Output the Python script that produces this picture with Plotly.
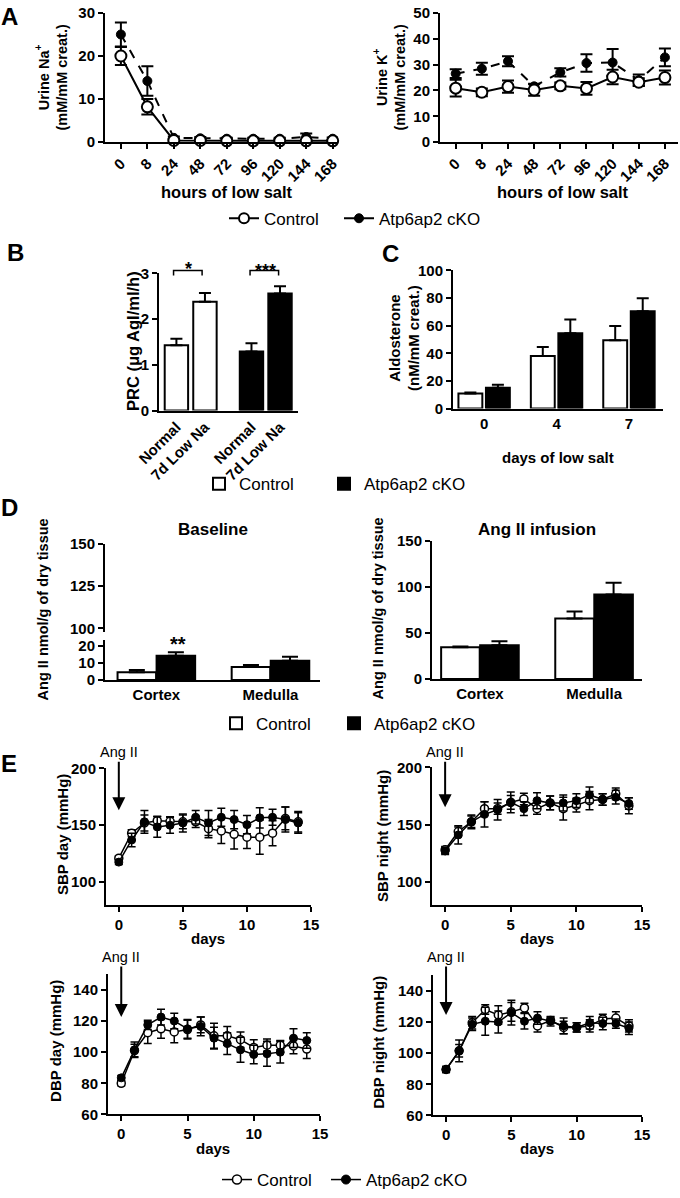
import plotly.graph_objects as go

# ---------------- data ----------------
hours = ["0", "8", "24", "48", "72", "96", "120", "144", "168"]
na_ctrl = [20.0, 8.2, 0.4, 0.4, 0.3, 0.3, 0.3, 0.3, 0.3]
na_ctrl_err = [2.1, 1.8, 0.3, 0.2, 0.2, 0.2, 0.2, 0.2, 0.2]
na_cko = [25.0, 14.2, 1.0, 0.9, 0.8, 0.8, 0.8, 1.2, 0.8]
na_cko_err = [2.8, 3.4, 0.3, 0.3, 0.2, 0.2, 0.2, 0.8, 0.3]

k_ctrl = [20.9, 19.3, 21.5, 20.2, 21.8, 20.8, 25.2, 23.2, 25.0]
k_ctrl_err = [3.2, 1.5, 2.4, 2.2, 1.3, 2.5, 2.8, 1.5, 2.7]
k_cko = [26.5, 28.4, 31.3, 21.6, 27.0, 30.6, 30.8, 24.0, 32.8]
k_cko_err = [1.7, 2.3, 1.9, 1.0, 1.6, 3.4, 5.2, 2.2, 3.4]

prc_labels = ["Normal", "7d Low Na"]
prc_ctrl = [1.43, 2.38]
prc_ctrl_err = [0.14, 0.19]
prc_cko = [1.29, 2.56]
prc_cko_err = [0.18, 0.16]

aldo_days = ["0", "4", "7"]
aldo_ctrl = [11.0, 38.0, 49.5]
aldo_ctrl_err = [0.6, 6.5, 10.2]
aldo_cko = [15.0, 54.5, 70.5]
aldo_cko_err = [2.2, 10.0, 9.3]

regions = ["Cortex", "Medulla"]
base_ctrl = [4.5, 7.6]
base_ctrl_err = [1.4, 1.2]
base_cko = [14.2, 11.2]
base_cko_err = [2.0, 2.3]
inf_ctrl = [34.5, 65.8]
inf_ctrl_err = [0.8, 7.6]
inf_cko = [36.7, 91.7]
inf_cko_err = [4.3, 12.9]

days = [0, 1, 2, 3, 4, 5, 6, 7, 8, 9, 10, 11, 12, 13, 14]
sbp_day_ctrl = [121, 143, 152, 154, 153.5, 153, 153, 147, 145, 142, 139.5, 139.5, 143, 156, 153]
sbp_day_ctrl_err = [2, 3, 7, 4, 4, 6, 5, 8, 11, 13, 10, 15, 11, 10, 9]
sbp_day_cko = [117.5, 137, 153, 148.5, 150, 152, 157, 152, 157, 155, 150.5, 156.5, 157, 155, 152]
sbp_day_cko_err = [2, 6, 10, 9, 7, 8, 6, 11, 8, 8, 8, 9, 7, 11, 9]

sbp_night_ctrl = [128, 144, 152.5, 164, 164, 169.5, 172.5, 164, 169, 164, 167, 171, 172, 177, 166.5]
sbp_night_ctrl_err = [3, 4, 5, 6, 5, 6, 5, 5, 6, 10, 6, 8, 5, 5, 7]
sbp_night_cko = [127, 141, 152.5, 159, 163, 169.5, 164, 171, 169, 169, 171, 176, 172, 174, 168.5]
sbp_night_cko_err = [3, 8, 6, 11, 9, 9, 6, 7, 6, 7, 6, 7, 5, 6, 5]

dbp_day_ctrl = [80, 101, 112.5, 115, 113, 114.5, 117.5, 110.5, 110.5, 108, 103, 104.5, 104.5, 104, 102]
dbp_day_ctrl_err = [1.5, 4, 7, 6, 7, 6, 5, 8, 6, 5, 5, 4, 3, 5, 6]
dbp_day_cko = [83.5, 101.5, 117.5, 122.5, 120, 115, 116.5, 109, 105.5, 101.5, 98.5, 99, 100, 109, 107.5]
dbp_day_cko_err = [1.5, 5, 3, 5, 5, 6, 6, 7, 7, 8, 6, 8, 7, 6, 5]

dbp_night_ctrl = [89.5, 101.5, 119.5, 128, 124.5, 126.5, 129, 117.5, 121, 116.5, 116.5, 117.5, 122, 122.5, 117.5]
dbp_night_ctrl_err = [2, 4, 4, 3, 6, 6, 3, 4, 2, 4, 3, 4, 3, 4, 4]
dbp_night_cko = [89.5, 101.5, 118.5, 120.5, 120, 126, 120.5, 122.5, 120.5, 117.5, 116.5, 119.5, 119, 119, 116]
dbp_night_cko_err = [2, 7, 4, 9, 7, 8, 5, 4, 3, 5, 3, 4, 4, 3, 4]

series_names = ["Control", "Atp6ap2 cKO"]

# ---------------- helpers ----------------
W, H = 680, 1198
FONT = "Liberation Sans, Arial, Helvetica, sans-serif"


def X(px):
    return px / W


def Y(py):
    return 1 - py / H


def dx(a, b):
    return [a / W, b / W]


def dy(top, bottom):
    return [1 - bottom / H, 1 - top / H]


tickfont = dict(family=FONT, size=15, color="black", weight="bold")
axis_common = dict(showline=True, linecolor="black", linewidth=2, ticks="outside",
                   ticklen=5, tickwidth=2, tickcolor="black", showgrid=False,
                   zeroline=False, tickfont=tickfont, automargin=False, fixedrange=True)


def err(arr, up_only=False, width=5, thick=1.5):
    d = dict(type="data", array=arr, visible=True, color="black", thickness=thick, width=width)
    if up_only:
        d["symmetric"] = False
        d["arrayminus"] = [0] * len(arr)
    return d


fig = go.Figure()


def open_marker(s, lw):
    return dict(symbol="circle", size=s, color="white", line=dict(color="black", width=lw))


def fill_marker(s):
    return dict(symbol="circle", size=s, color="black", line=dict(color="black", width=1))


# ---------------- Panel A ----------------
xa = list(range(len(hours)))
for xr, yr, (yc, yce, yk, yke) in [("x", "y", (na_ctrl, na_ctrl_err, na_cko, na_cko_err)),
                                   ("x2", "y2", (k_ctrl, k_ctrl_err, k_cko, k_cko_err))]:
    fig.add_trace(go.Scatter(x=xa, y=yk, error_y=err(yke, width=6, thick=2), mode="lines+markers",
                             line=dict(color="black", width=2, dash="dash"), marker=fill_marker(9),
                             xaxis=xr, yaxis=yr, showlegend=False, cliponaxis=False))
    fig.add_trace(go.Scatter(x=xa, y=yc, error_y=err(yce, width=6, thick=2), mode="lines+markers",
                             line=dict(color="black", width=2), marker=open_marker(11, 2),
                             xaxis=xr, yaxis=yr, showlegend=False, cliponaxis=False))
# legend A
fig.add_trace(go.Scatter(x=[None], y=[None], mode="lines+markers", name=series_names[0],
                         line=dict(color="black", width=2), marker=open_marker(10, 2),
                         xaxis="x", yaxis="y", legend="legend"))
fig.add_trace(go.Scatter(x=[None], y=[None], mode="lines+markers", name=series_names[1],
                         line=dict(color="black", width=2), marker=fill_marker(9),
                         xaxis="x", yaxis="y", legend="legend", legendwidth=130))

# ---------------- Panel B ----------------
B_GAP = 2.63
b_ctrl_x = [i for i in range(len(prc_labels))]
b_cko_x = [i + B_GAP for i in range(len(prc_labels))]
white_bar = dict(color="white", line=dict(color="black", width=2))
black_bar = dict(color="black", line=dict(color="black", width=2))
fig.add_trace(go.Bar(x=b_ctrl_x, y=prc_ctrl, width=0.82, marker=white_bar,
                     error_y=err(prc_ctrl_err, True, 6, 2), xaxis="x3", yaxis="y3", showlegend=False))
fig.add_trace(go.Bar(x=b_cko_x, y=prc_cko, width=0.82, marker=black_bar,
                     error_y=err(prc_cko_err, True, 6, 2), xaxis="x3", yaxis="y3", showlegend=False))
fig.add_trace(go.Bar(x=[None], y=[None], name=series_names[0], marker=white_bar,
                     xaxis="x3", yaxis="y3", legend="legend2"))
fig.add_trace(go.Bar(x=[None], y=[None], name=series_names[1], marker=black_bar,
                     xaxis="x3", yaxis="y3", legend="legend2", legendwidth=130))

# ---------------- Panel C ----------------
C_OFF, C_W = 0.19, 0.33
c_idx = list(range(len(aldo_days)))
fig.add_trace(go.Bar(x=[i - C_OFF for i in c_idx], y=aldo_ctrl, width=C_W, marker=white_bar,
                     error_y=err(aldo_ctrl_err, True, 6, 2), xaxis="x4", yaxis="y4", showlegend=False))
fig.add_trace(go.Bar(x=[i + C_OFF for i in c_idx], y=aldo_cko, width=C_W, marker=black_bar,
                     error_y=err(aldo_cko_err, True, 6, 2), xaxis="x4", yaxis="y4", showlegend=False))

# ---------------- Panel D ----------------
D_OFF, D_W = 0.171, 0.338
d_idx = list(range(len(regions)))
fig.add_trace(go.Bar(x=[i - D_OFF for i in d_idx], y=base_ctrl, width=D_W, marker=white_bar,
                     error_y=err(base_ctrl_err, True, 8, 2), xaxis="x5", yaxis="y5", showlegend=False))
fig.add_trace(go.Bar(x=[i + D_OFF for i in d_idx], y=base_cko, width=D_W, marker=black_bar,
                     error_y=err(base_cko_err, True, 8, 2), xaxis="x5", yaxis="y5", showlegend=False))
fig.add_trace(go.Scatter(x=[None], y=[None], xaxis="x5", yaxis="y6", showlegend=False, hoverinfo="skip"))
fig.add_trace(go.Bar(x=[i - D_OFF for i in d_idx], y=inf_ctrl, width=D_W, marker=white_bar,
                     error_y=err(inf_ctrl_err, True, 8, 2), xaxis="x6", yaxis="y7", showlegend=False))
fig.add_trace(go.Bar(x=[i + D_OFF for i in d_idx], y=inf_cko, width=D_W, marker=black_bar,
                     error_y=err(inf_cko_err, True, 8, 2), xaxis="x6", yaxis="y7", showlegend=False))
fig.add_trace(go.Bar(x=[None], y=[None], name=series_names[0], marker=white_bar,
                     xaxis="x6", yaxis="y7", legend="legend3"))
fig.add_trace(go.Bar(x=[None], y=[None], name=series_names[1], marker=black_bar,
                     xaxis="x6", yaxis="y7", legend="legend3", legendwidth=130))

# ---------------- Panel E ----------------
e_sets = [("x7", "y8", sbp_day_ctrl, sbp_day_ctrl_err, sbp_day_cko, sbp_day_cko_err),
          ("x8", "y9", sbp_night_ctrl, sbp_night_ctrl_err, sbp_night_cko, sbp_night_cko_err),
          ("x9", "y10", dbp_day_ctrl, dbp_day_ctrl_err, dbp_day_cko, dbp_day_cko_err),
          ("x10", "y11", dbp_night_ctrl, dbp_night_ctrl_err, dbp_night_cko, dbp_night_cko_err)]
for xr, yr, yc, yce, yk, yke in e_sets:
    fig.add_trace(go.Scatter(x=days, y=yc, error_y=err(yce, width=4, thick=1.5), mode="lines+markers",
                             line=dict(color="black", width=1.5), marker=open_marker(8, 1.5),
                             xaxis=xr, yaxis=yr, showlegend=False, cliponaxis=False))
    fig.add_trace(go.Scatter(x=days, y=yk, error_y=err(yke, width=4, thick=1.5), mode="lines+markers",
                             line=dict(color="black", width=1.5), marker=fill_marker(8),
                             xaxis=xr, yaxis=yr, showlegend=False, cliponaxis=False))
fig.add_trace(go.Scatter(x=[None], y=[None], mode="lines+markers", name=series_names[0],
                         line=dict(color="black", width=1.5), marker=open_marker(9, 1.5),
                         xaxis="x7", yaxis="y8", legend="legend4"))
fig.add_trace(go.Scatter(x=[None], y=[None], mode="lines+markers", name=series_names[1],
                         line=dict(color="black", width=1.5), marker=fill_marker(9),
                         xaxis="x7", yaxis="y8", legend="legend4", legendwidth=130))

# ---------------- axes ----------------
B_XR = [-0.61, 4.26]
B_DOM = (159, 298)
layout_axes = dict(
    xaxis=dict(axis_common, domain=dx(105, 338), anchor="y", range=[-0.6, 8.2], tickvals=xa,
               ticktext=hours, tickangle=-45),
    yaxis=dict(axis_common, domain=dy(13, 143), anchor="x", range=[0, 30], tickvals=[0, 10, 20, 30]),
    xaxis2=dict(axis_common, domain=dx(440, 678), anchor="y2", range=[-0.6, 8.5], tickvals=xa,
                ticktext=hours, tickangle=-45),
    yaxis2=dict(axis_common, domain=dy(13, 143), anchor="x2", range=[0, 50],
                tickvals=[0, 10, 20, 30, 40, 50]),
    xaxis3=dict(axis_common, domain=dx(*B_DOM), anchor="y3", range=B_XR, tickvals=b_ctrl_x + b_cko_x,
                ticktext=prc_labels + prc_labels, tickangle=-45, ticks=""),
    yaxis3=dict(axis_common, domain=dy(275, 413), anchor="x3", range=[0, 3], tickvals=[0, 1, 2, 3]),
    xaxis4=dict(axis_common, domain=dx(453, 663), anchor="y4", range=[-0.43, 2.47], tickvals=c_idx,
                ticktext=aldo_days, ticks=""),
    yaxis4=dict(axis_common, domain=dy(272, 411), anchor="x4", range=[0, 100],
                tickvals=[0, 20, 40, 60, 80, 100]),
    xaxis5=dict(axis_common, domain=dx(105, 320), anchor="y5", range=[-0.45, 1.434], tickvals=d_idx,
                ticktext=regions, ticks=""),
    yaxis5=dict(axis_common, domain=dy(644, 684), anchor="x5", range=[0, 23.2], tickvals=[0, 10, 20]),
    yaxis6=dict(axis_common, domain=dy(547, 636), anchor="x5", range=[97.7, 150], tickvals=[100, 125, 150]),
    xaxis6=dict(axis_common, domain=dx(432, 642), anchor="y7", range=[-0.42, 1.42], tickvals=d_idx,
                ticktext=regions, ticks=""),
    yaxis7=dict(axis_common, domain=dy(544, 683), anchor="x6", range=[0, 150], tickvals=[0, 50, 100, 150]),
    xaxis7=dict(axis_common, domain=dx(106, 311), anchor="y8", range=[-1, 15], tickvals=[0, 5, 10, 15]),
    yaxis8=dict(axis_common, domain=dy(773, 910), anchor="x7", range=[80, 200], tickvals=[100, 150, 200]),
    xaxis8=dict(axis_common, domain=dx(432, 642), anchor="y9", range=[-1, 15], tickvals=[0, 5, 10, 15]),
    yaxis9=dict(axis_common, domain=dy(772, 910), anchor="x8", range=[80, 200], tickvals=[100, 150, 200]),
    xaxis9=dict(axis_common, domain=dx(108, 320), anchor="y10", range=[-1, 15], tickvals=[0, 5, 10, 15]),
    yaxis10=dict(axis_common, domain=dy(980, 1121), anchor="x9", range=[60, 150],
                 tickvals=[60, 80, 100, 120, 140]),
    xaxis10=dict(axis_common, domain=dx(433, 642), anchor="y11", range=[-1, 15], tickvals=[0, 5, 10, 15]),
    yaxis11=dict(axis_common, domain=dy(981, 1122), anchor="x10", range=[60, 150],
                 tickvals=[60, 80, 100, 120, 140]),
)

# ---------------- annotations ----------------
ann = []


def txt(s, cx, cy, size, bold=True, angle=0):
    ann.append(dict(text=s, x=X(cx), y=Y(cy), xref="paper", yref="paper", xanchor="center",
                    yanchor="middle", showarrow=False, textangle=angle,
                    font=dict(family=FONT, size=size, color="black", weight="bold" if bold else "normal")))


for letter, cx, cy in [("A", 9, 17), ("B", 15, 254), ("C", 390, 255), ("D", 9, 510), ("E", 9, 768)]:
    txt(letter, cx, cy, 24)

txt("Urine Na<sup>+</sup><br>(mM/mM creat.)", 52, 78, 14.5, angle=-90)
txt("Urine K<sup>+</sup><br>(mM/mM creat.)", 390, 78, 14.5, angle=-90)
txt("hours of low salt", 227, 193, 16.5)
txt("hours of low salt", 563, 193, 16.5)
txt("PRC (μg AgI/ml/h)", 133, 343, 16.5, angle=-90)
txt("Aldosterone<br>(nM/mM creat.)", 404, 340, 15, angle=-90)
txt("days of low salt", 558, 460, 15)
txt("Baseline", 213, 533, 17)
txt("Ang II infusion", 537, 533, 17)
txt("Ang II nmol/g of dry tissue", 43, 613, 14.5, angle=-90)
txt("Ang II nmol/g of dry tissue", 378, 612, 14.5, angle=-90)
txt("SBP day (mmHg)", 62, 840, 15, angle=-90)
txt("SBP night (mmHg)", 382, 841, 15, angle=-90)
txt("DBP day (mmHg)", 56, 1047, 15, angle=-90)
txt("DBP night (mmHg)", 379, 1049, 15, angle=-90)
txt("days", 208, 944, 15)
txt("days", 537, 944, 15)
txt("days", 213, 1155, 15)
txt("days", 537, 1155, 15)

# significance marks
txt("*", 188, 271, 18)
txt("***", 265, 273, 18)
txt("**", 178, 648, 20)

# Ang II arrows (text above, arrow pointing down at day 0)
for xr, tip_px, text_px in [("x7", 815, 757), ("x8", 812, 757), ("x9", 1023, 963), ("x10", 1021, 963)]:
    ann.append(dict(text="Ang II", x=0, xref=xr, y=Y(tip_px), yref="paper", ax=0, ay=-(tip_px - text_px),
                    showarrow=True, arrowhead=2, arrowsize=1.3, arrowwidth=2, arrowcolor="black",
                    font=dict(family=FONT, size=14.5, color="black")))


# significance brackets in panel B (converted from data x to paper)
def b_px(v):
    return B_DOM[0] + (v - B_XR[0]) / (B_XR[1] - B_XR[0]) * (B_DOM[1] - B_DOM[0])


shapes = []
for x0, x1 in [(b_ctrl_x[0] - 0.1, b_ctrl_x[1] - 0.1), (b_cko_x[0] - 0.05, b_cko_x[1] - 0.05)]:
    p0, p1 = b_px(x0), b_px(x1)
    shapes.append(dict(type="path", xref="paper", yref="paper",
                       path=f"M {X(p0)},{Y(277)} L {X(p0)},{Y(272)} L {X(p1)},{Y(272)} L {X(p1)},{Y(277)}",
                       line=dict(color="black", width=1.5)))

legend_common = dict(orientation="h", xanchor="left", yanchor="middle", bgcolor="rgba(0,0,0,0)",
                     font=dict(family=FONT, size=17, color="black"), entrywidthmode="pixels",
                     itemclick=False, itemdoubleclick=False, traceorder="normal")

fig.update_layout(
    width=W, height=H, margin=dict(l=0, r=0, t=0, b=0),
    paper_bgcolor="white", plot_bgcolor="white", barmode="overlay",
    font=dict(family=FONT, color="black"),
    annotations=ann, shapes=shapes, showlegend=True,
    legend=dict(legend_common, x=X(224), y=Y(220), entrywidth=70),
    legend2=dict(legend_common, x=X(199), y=Y(487), entrywidth=80),
    legend3=dict(legend_common, x=X(216), y=Y(728), entrywidth=73),
    legend4=dict(legend_common, x=X(217), y=Y(1187), entrywidth=64),
    **layout_axes,
)

fig.write_html("out.html", config={"displayModeBar": False},
               post_script="document.body.style.margin='0px';")
